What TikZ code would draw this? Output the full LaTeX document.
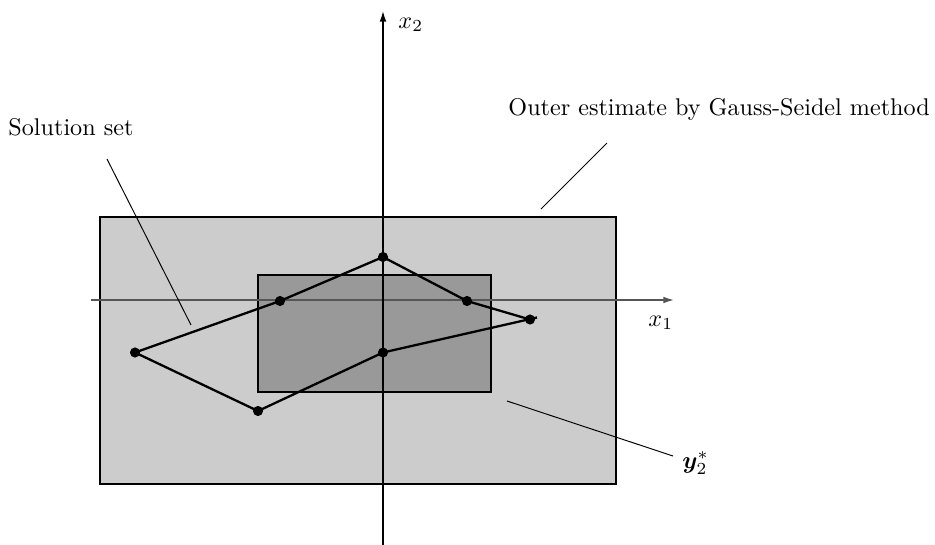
\documentclass[tikz,border=0pt]{standalone}
\usepackage{amsmath}
\usepackage{bm}
\usetikzlibrary{arrows.meta}
\definecolor{outerfill}{HTML}{CCCCCC}
\definecolor{innerfill}{HTML}{999999}
\definecolor{axisgray}{HTML}{555555}
\begin{document}
\begin{tikzpicture}[x=0.414pt,y=-0.414pt,
  box/.style={draw=black,line width=0.45pt},
  axisline/.style={line width=0.6pt,-{Latex[length=4.4pt,width=2.8pt]}},
  edge/.style={line width=0.95pt,line join=round},
  vertexdot/.style={circle,fill=black,inner sep=0pt,minimum size=4.2pt},
  leader/.style={line width=0.4pt},
  lbl/.style={inner sep=0pt,font=\normalsize}]
\useasboundingbox (0,0) rectangle (935,545);
% rectangles
\draw[box,fill=outerfill] (100,217) rectangle (616,484);
\draw[box,fill=innerfill] (258,275) rectangle (491,392);
% axes
\coordinate (xs) at (91,300);
\coordinate (xe) at (674,300);
\coordinate (ys) at (383,545);
\coordinate (ye) at (383,11);
\draw[axisline,draw=axisgray] (xs) -- (xe);
\draw[axisline] (ys) -- (ye);
% vertices
\node[vertexdot] (top) at (383,257) {};
\node[vertexdot] (rm) at (467,301) {};
\node[vertexdot] (fr) at (530,319.5) {};
\node[vertexdot] (cm) at (383,352.5) {};
\node[vertexdot] (bot) at (258,411) {};
\node[vertexdot] (lf) at (135,352.5) {};
\node[vertexdot] (lm) at (280,301) {};
\coordinate (frx) at (537,317.5);
\draw[edge] (top.center) -- (rm.center) -- (fr.center);
\draw[edge] (frx) -- (cm.center) -- (bot.center) -- (lf.center) -- (lm.center) -- (top.center);
% labels
\node[lbl,anchor=base west] (x2) at (398,28) {$x_2$};
\node[lbl,anchor=base west] (x1) at (648,326) {$x_1$};
\node[lbl,anchor=base west] (sol) at (8,135) {Solution set};
\node[lbl,anchor=base west] (outer) at (508,115.5) {Outer estimate by Gauss-Seidel method};
\node[lbl,anchor=base west] (ystar) at (682,468) {$\bm{y}_2^*$};
% leaders
\coordinate (l1a) at (107,159);
\coordinate (l1b) at (191,325);
\coordinate (l2a) at (607,143);
\coordinate (l2b) at (541,209);
\coordinate (l3a) at (673,456);
\coordinate (l3b) at (507,401);
\draw[leader] (l1a) -- (l1b);
\draw[leader] (l2a) -- (l2b);
\draw[leader] (l3a) -- (l3b);
\end{tikzpicture}
\end{document}
